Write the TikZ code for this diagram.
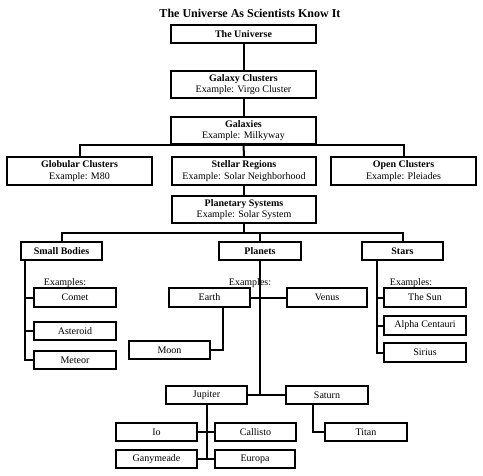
\documentclass[tikz,border=0pt]{standalone}
\usepackage{fontspec}
\setmainfont{Liberation Serif}
\begin{document}
\begin{tikzpicture}[x=1pt,y=-1pt,
  box/.style={draw=black,line width=2pt,fill=white,inner sep=0pt,align=center,font=\fontsize{10}{11.5}\selectfont},
  bx/.style={box,minimum width=#1},
  lbl/.style={inner sep=0pt,font=\fontsize{10}{12}\selectfont},
  conn/.style={draw=black,line width=2pt}]
\useasboundingbox (0,0) rectangle (483,475);
\node[inner sep=0pt,font=\fontsize{12}{14}\bfseries\selectfont] (title) at (250,13) {The Universe As Scientists Know It};
% boxes
\node[bx=145pt,minimum height=18pt] (universe) at (243.5,34) {\textbf{The Universe}};
\node[bx=145pt,minimum height=27pt] (galcl) at (243.5,84.5) {\textbf{Galaxy Clusters}\\Example: Virgo Cluster};
\node[bx=145pt,minimum height=27pt] (galaxies) at (243.5,130.5) {\textbf{Galaxies}\\Example: Milkyway};
\node[bx=145pt,minimum height=28pt] (globular) at (79.5,171) {\textbf{Globular Clusters}\\Example: M80};
\node[bx=144pt,minimum height=28pt] (stellar) at (244,171) {\textbf{Stellar Regions}\\Example: Solar Neighborhood};
\node[bx=145pt,minimum height=28pt] (open) at (403.5,171) {\textbf{Open Clusters}\\Example: Pleiades};
\node[bx=144pt,minimum height=27pt] (planetary) at (244,209.5) {\textbf{Planetary Systems}\\Example: Solar System};
\node[bx=81pt,minimum height=18pt] (small) at (61.5,251) {\textbf{Small Bodies}};
\node[bx=82pt,minimum height=18pt] (planets) at (260,251) {\textbf{Planets}};
\node[bx=81pt,minimum height=18pt] (stars) at (402.5,251) {\textbf{Stars}};
\node[bx=82pt,minimum height=19pt] (comet) at (75,297.5) {Comet};
\node[bx=82pt,minimum height=18pt] (asteroid) at (75,331) {Asteroid};
\node[bx=82pt,minimum height=18pt] (meteor) at (75,360) {Meteor};
\node[bx=81pt,minimum height=19pt] (earth) at (209.5,297.5) {Earth};
\node[bx=80pt,minimum height=19pt] (venus) at (327,297.5) {Venus};
\node[bx=81pt,minimum height=18pt] (moon) at (169.5,350) {Moon};
\node[bx=81pt,minimum height=18pt] (jupiter) at (206.5,395) {Jupiter};
\node[bx=82pt,minimum height=18pt] (saturn) at (327,395) {Saturn};
\node[bx=81pt,minimum height=18pt] (io) at (156.5,432) {Io};
\node[bx=81pt,minimum height=18pt] (callisto) at (255.5,432) {Callisto};
\node[bx=81pt,minimum height=18pt] (ganymeade) at (156.5,459) {Ganymeade};
\node[bx=80pt,minimum height=18pt] (europa) at (255,459) {Europa};
\node[bx=82pt,minimum height=18pt] (titan) at (366,432) {Titan};
\node[bx=82pt,minimum height=19pt] (thesun) at (425,297.5) {The Sun};
\node[bx=82pt,minimum height=19pt] (alpha) at (425,325.5) {Alpha Centauri};
\node[bx=82pt,minimum height=19pt] (sirius) at (425,352.5) {Sirius};
% example labels
\node[lbl] (exs) at (65,283) {Examples:};
\node[lbl] (exp) at (250,283) {Examples:};
\node[lbl] (exst) at (411,283) {Examples:};
% connector corner points
\coordinate (pbar) at (244,233);
\coordinate (sbv) at (25,260);
\coordinate (stv) at (377,260);
\coordinate (ev) at (223,307);
\coordinate (sv) at (313,404);
% connectors
\draw[conn] (universe.south) -- (galcl.north);
\draw[conn] (galcl.south) -- (galaxies.north);
\draw[conn] (globular.north) |- (galaxies.south) -| (open.north);
\draw[conn] (galaxies.south) -- (stellar.north);
\draw[conn] (stellar.south) -- (planetary.north);
\draw[conn] (planetary.south) -- (pbar);
\draw[conn] (small.north) |- (pbar) -| (stars.north);
\draw[conn] (planets.north) -- (planets.north |- pbar);
\draw[conn] (sbv) |- (meteor.west);
\draw[conn] (sbv |- comet.west) -- (comet.west);
\draw[conn] (sbv |- asteroid.west) -- (asteroid.west);
\draw[conn] (planets.south) -- (planets.south |- jupiter.east);
\draw[conn] (jupiter.east) -- (saturn.west);
\draw[conn] (earth.east) -- (venus.west);
\draw[conn] (ev) |- (moon.east);
\draw[conn] (jupiter.south) -- (jupiter.south |- ganymeade.east);
\draw[conn] (io.east) -- (callisto.west);
\draw[conn] (ganymeade.east) -- (europa.west);
\draw[conn] (sv) |- (titan.west);
\draw[conn] (stv) |- (sirius.west);
\draw[conn] (stv |- thesun.west) -- (thesun.west);
\draw[conn] (stv |- alpha.west) -- (alpha.west);
\end{tikzpicture}
\end{document}
